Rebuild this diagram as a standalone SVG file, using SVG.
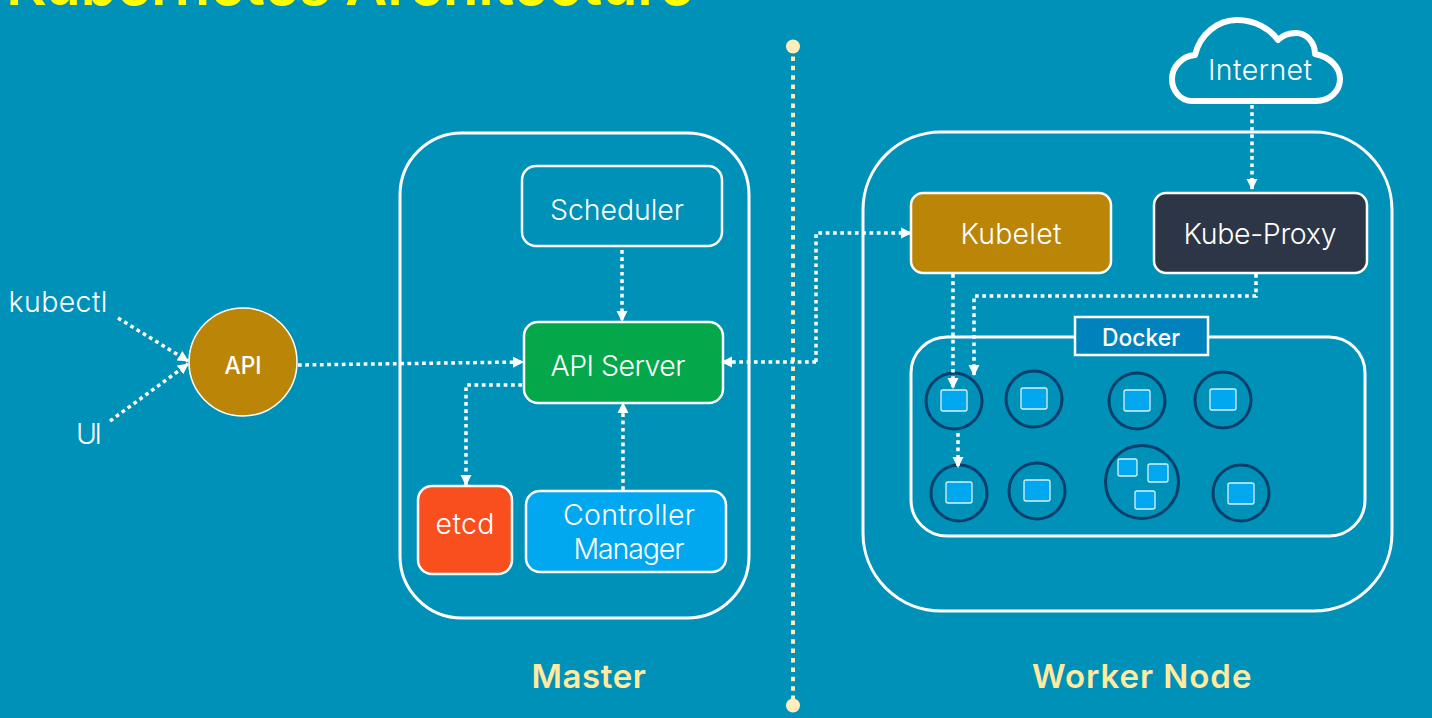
<svg xmlns="http://www.w3.org/2000/svg" width="1432" height="718" viewBox="0 0 1432 718">
<defs>
<marker id="ah" markerUnits="userSpaceOnUse" markerWidth="12" markerHeight="12" refX="10" refY="6" orient="auto"><path d="M0 .5L11 6L0 11.500Z" fill="#fff"/></marker>
</defs>
<style>
text{font-family:"Inter","Lato","Liberation Sans",sans-serif;fill:#fff;text-anchor:middle}
.l{font-size:28.500px;font-weight:300}
.h{font-size:33px;font-weight:600;fill:#ffeaa0;letter-spacing:.6px}
.b{fill:none;stroke:#fff;stroke-width:3}
.n{stroke:#fff;stroke-width:2.500}
.c{fill:none;stroke:#fff;stroke-width:3.500;stroke-dasharray:3.700 3.600;marker-end:url(#ah)}
.p{fill:#0091b9;stroke:#063f6b;stroke-width:3}
.t{fill:#02a8ef;stroke:#d8f2fa;stroke-width:1.300}
</style>
<rect width="1432" height="718" fill="#0091b9"/>
<text x="350" y="5" font-size="58" font-weight="600" style="fill:#ffff00">Kubernetes Architecture</text>
<g id="divider"><path d="M793 47V705" stroke="#ffeebb" stroke-width="4" stroke-dasharray="4.500 4.900" fill="none"/><circle cx="793" cy="46.500" r="7" fill="#ffeebb"/><circle cx="793" cy="705.500" r="7" fill="#ffeebb"/></g>
<g id="master"><rect class="b" x="400" y="133" width="349" height="485" rx="62"/><text class="h" x="589" y="688" textLength="115">Master</text></g>
<g id="worker"><rect class="b" x="863" y="132" width="529" height="479" rx="78"/><text class="h" x="1142" y="688" textLength="220">Worker Node</text></g>
<g id="docker"><rect class="b" x="911" y="337" width="454" height="199" rx="36"/><rect x="1075" y="317" width="133" height="38" fill="#0083bc" stroke="#fff" stroke-width="2.500"/><text x="1141" y="346" font-size="24" font-weight="500" textLength="78" lengthAdjust="spacingAndGlyphs">Docker</text></g>
<g id="scheduler"><rect class="n" x="522" y="166" width="200" height="80" rx="14" fill="#0091b9"/><text class="l" x="617" y="220" textLength="134">Scheduler</text></g>
<g id="api-server"><rect class="n" x="524" y="322" width="199" height="81" rx="14" fill="#04a84a"/><text class="l" x="618" y="376" textLength="135">API Server</text></g>
<g id="etcd"><rect class="n" x="418" y="486" width="94" height="88" rx="14" fill="#f94f1f"/><text class="l" x="465" y="534" textLength="59">etcd</text></g>
<g id="controller-manager"><rect class="n" x="526" y="491" width="200" height="81" rx="14" fill="#02a8ef"/><text class="l" x="629" y="525" textLength="132">Controller</text><text class="l" x="629" y="559" textLength="111">Manager</text></g>
<g id="kubelet"><rect class="n" x="911" y="193" width="200" height="80" rx="12" fill="#bb8507"/><text class="l" x="1011" y="244" textLength="101">Kubelet</text></g>
<g id="kube-proxy"><rect class="n" x="1154" y="193" width="213" height="80" rx="12" fill="#2c3646"/><text class="l" x="1260" y="244" textLength="153">Kube-Proxy</text></g>
<g id="api"><circle cx="243" cy="362" r="54" fill="#bb8507" stroke="#fff" stroke-width="1.500"/><text x="243" y="374" font-size="24" font-weight="500" textLength="37" lengthAdjust="spacingAndGlyphs">API</text></g>
<g id="kubectl"><text class="l" x="58" y="312" textLength="99">kubectl</text></g>
<g id="ui"><text class="l" x="89" y="444" textLength="26">UI</text></g>
<g id="internet"><path d="M1192 101C1180 101 1172 90 1172 79C1172 67 1182 56 1195 55C1200 34 1218 20 1237 20C1255 20 1270 29 1278 40C1284 34 1290 33 1296 33C1306 33 1315 42 1315 54C1330 57 1340 67 1340 79C1340 91 1330 101 1316 101Z" fill="#0091b9" stroke="#fff" stroke-width="6" stroke-linejoin="round"/><text class="l" x="1260" y="80" textLength="104">Internet</text></g>
<g id="pods">
<g class="pod"><circle class="p" cx="954" cy="401" r="28"/><rect class="t" x="941" y="390" width="26" height="21" rx="2"/></g>
<g class="pod"><circle class="p" cx="1034" cy="399" r="28"/><rect class="t" x="1021" y="388" width="26" height="21" rx="2"/></g>
<g class="pod"><circle class="p" cx="1137" cy="401" r="28"/><rect class="t" x="1124" y="390" width="26" height="21" rx="2"/></g>
<g class="pod"><circle class="p" cx="1223" cy="400" r="28"/><rect class="t" x="1210" y="389" width="26" height="21" rx="2"/></g>
<g class="pod"><circle class="p" cx="959" cy="493" r="28"/><rect class="t" x="946" y="482" width="26" height="21" rx="2"/></g>
<g class="pod"><circle class="p" cx="1037" cy="491" r="28"/><rect class="t" x="1024" y="480" width="26" height="21" rx="2"/></g>
<g class="pod"><circle class="p" cx="1142" cy="482" r="36.500"/><rect class="t" x="1118" y="459" width="19" height="17" rx="2"/><rect class="t" x="1148" y="464" width="20" height="18" rx="2"/><rect class="t" x="1135" y="491" width="20" height="18" rx="2"/></g>
<g class="pod"><circle class="p" cx="1241" cy="493" r="28"/><rect class="t" x="1228" y="483" width="26" height="21" rx="2"/></g>
</g>
<g id="connectors">
<path class="c" d="M118 318L188 361"/>
<path class="c" d="M110 421L188 364"/>
<path class="c" d="M298 365L523 362"/>
<path class="c" d="M622 250V321"/>
<path class="c" d="M522 385H466V485"/>
<path class="c" d="M623 490V403"/>
<path class="c" d="M816 362H722"/>
<path class="c" d="M816 362V233H911"/>
<path class="c" d="M1252 105V189"/>
<path class="c" d="M1256 274V296H974V375"/>
<path class="c" d="M953 274V388"/>
<path class="c" d="M958 433V467"/>
</g>
</svg>
